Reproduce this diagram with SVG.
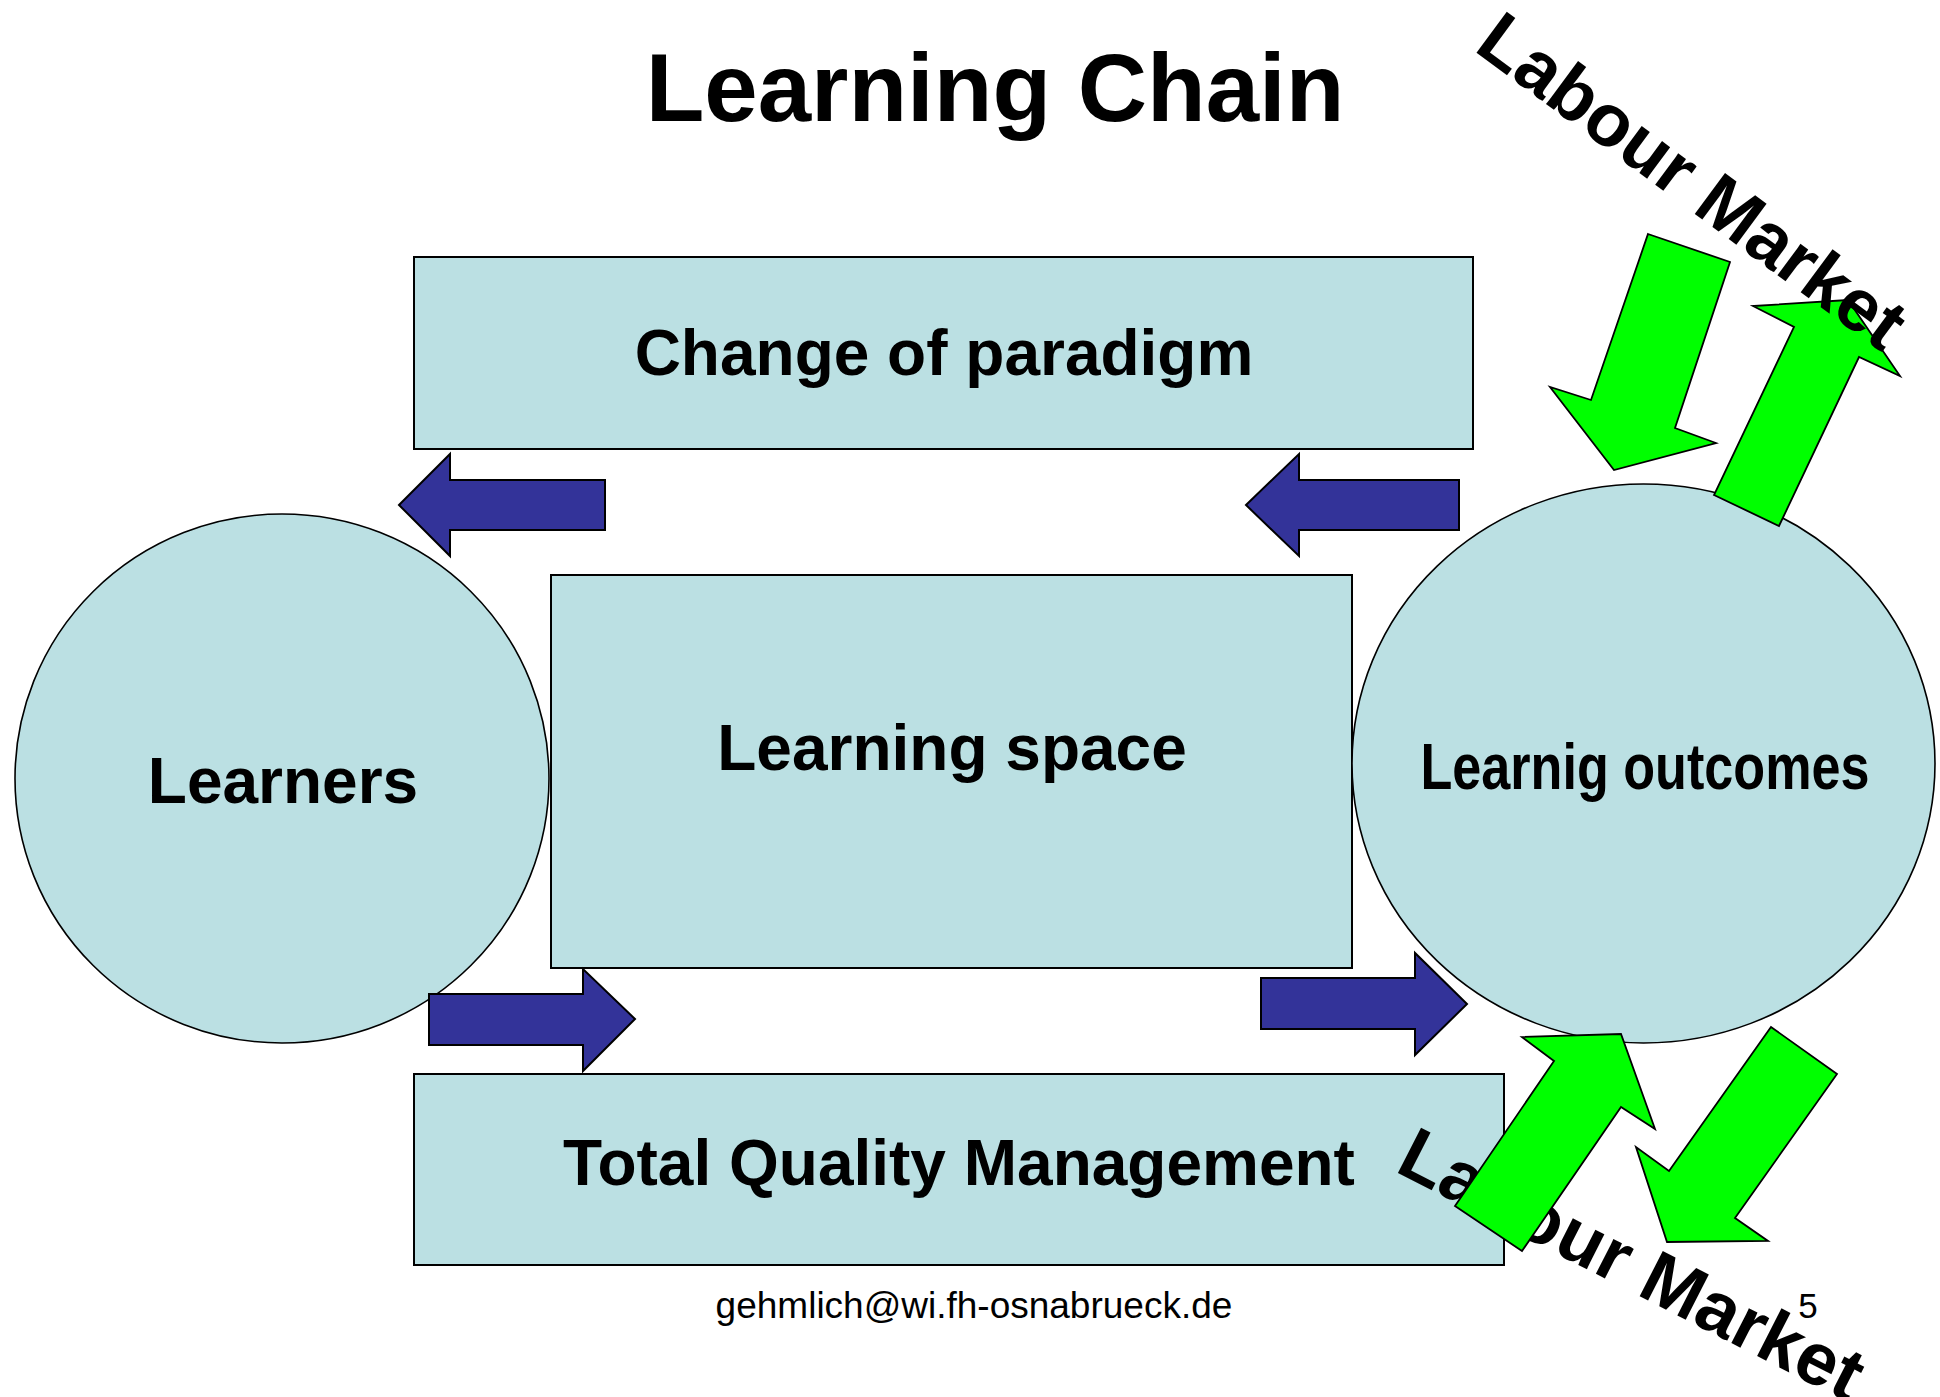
<svg xmlns="http://www.w3.org/2000/svg" width="1940" height="1397" viewBox="0 0 1940 1397">
<style>
.box{fill:#BBE0E3;stroke:#000;stroke-width:2}
.oval{fill:#BBE0E3;stroke:#000;stroke-width:1.6}
.blue{fill:#333399;stroke:#000;stroke-width:2;stroke-linejoin:miter}
.green{fill:#00FF00;stroke:#000;stroke-width:1.8;stroke-linejoin:miter}
.t{font-family:"Liberation Sans",Arial,sans-serif;font-weight:bold;fill:#000}
.f{font-family:"Liberation Sans",Arial,sans-serif;fill:#000}
</style>
<rect width="1940" height="1397" fill="#fff"/>
<g id="title"><text class="t" x="995" y="121" font-size="96" text-anchor="middle">Learning Chain</text></g>

<g id="paradigm"><rect class="box" x="414" y="257" width="1059" height="192"/><text class="t" x="944" y="375" font-size="64" text-anchor="middle">Change of paradigm</text></g>
<g id="learning-space"><rect class="box" x="551" y="575" width="801" height="393"/><text class="t" x="952" y="770" font-size="64" text-anchor="middle">Learning space</text></g>
<g id="tqm"><rect class="box" x="414" y="1074" width="1090" height="191"/><text class="t" x="959" y="1185" font-size="64" text-anchor="middle">Total Quality Management</text></g>
<g id="learners"><ellipse class="oval" cx="282" cy="778.5" rx="267" ry="264.5"/><text class="t" x="283" y="803" font-size="64" text-anchor="middle">Learners</text></g>
<g id="outcomes"><ellipse class="oval" cx="1643.5" cy="763.5" rx="291.5" ry="279.5"/><text class="t" x="1645" y="789" font-size="64" text-anchor="middle" textLength="449" lengthAdjust="spacingAndGlyphs">Learnig outcomes</text></g>

<g id="labour-market-bottom"><text class="t" font-size="74" transform="translate(1393.4 1170.8) rotate(27)">Labour Market</text></g>

<g id="connectors">
<polygon class="blue" points="399,505 450,454 450,480 605,480 605,530 450,530 450,556"/>
<polygon class="blue" points="1246,505 1299,454 1299,480 1459,480 1459,530 1299,530 1299,556"/>
<polygon class="blue" points="635,1019 583,969 583,994 429,994 429,1045 583,1045 583,1071"/>
<polygon class="blue" points="1467,1004 1415,953 1415,978 1261,978 1261,1029 1415,1029 1415,1055"/>
<polygon class="green" points="1648,234 1730,262 1675,428 1716,443 1614,470 1550,387 1591,400"/>
<polygon class="green" points="1714,495 1779,526 1859,357 1900,376 1848,300 1753,306 1794,327"/>
<polygon class="green" points="1455,1206 1522,1251 1621,1107 1655,1129 1621,1034 1522,1037 1554,1061"/>
<polygon class="green" points="1771,1027 1837,1074 1735,1218 1768,1241 1667,1242 1636,1147 1669,1171"/>
</g>

<g id="labour-market-top"><text class="t" font-size="74" transform="translate(1472.6 49.7) rotate(36.5)">Labour Market</text></g>

<g id="footer"><text class="f" x="974" y="1318" font-size="37" text-anchor="middle">gehmlich@wi.fh-osnabrueck.de</text><text class="f" x="1808" y="1318" font-size="35" text-anchor="middle">5</text></g>
</svg>
